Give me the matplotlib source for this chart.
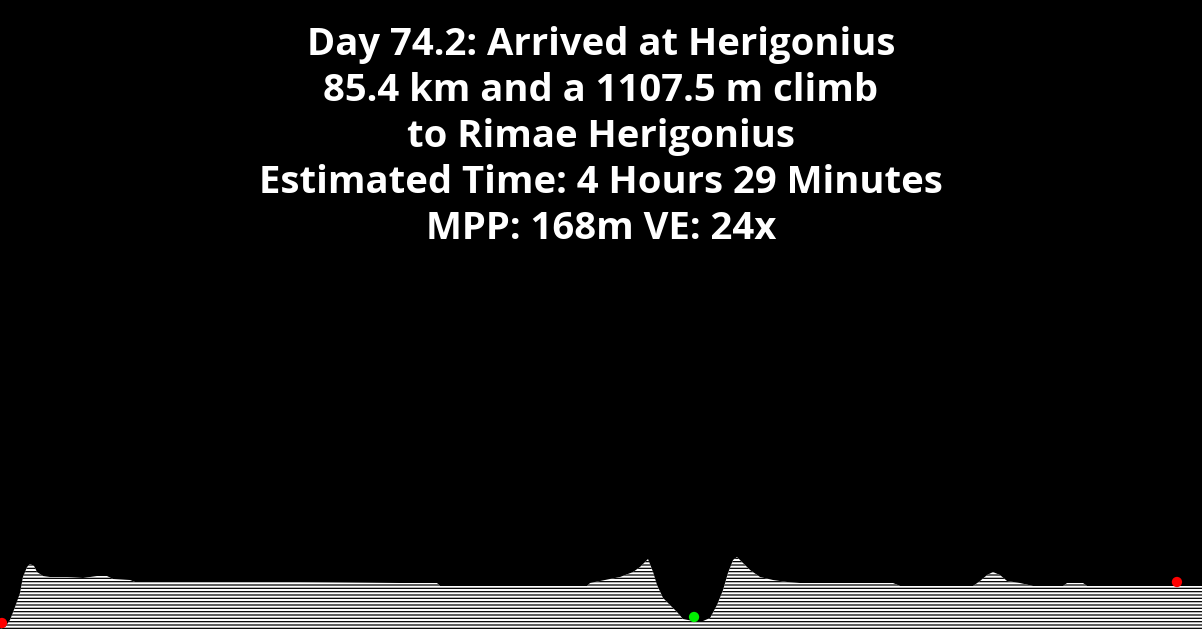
import numpy as np
import matplotlib.pyplot as plt

plt.rcParams['font.family'] = ['Open Sans', 'DejaVu Sans']
plt.rcParams['hatch.linewidth'] = 0.9

title_lines = [
    "Day 74.2: Arrived at Herigonius",
    "85.4 km and a 1107.5 m climb",
    "to Rimae Herigonius",
    "Estimated Time: 4 Hours 29 Minutes",
    "MPP: 168m VE: 24x",
]

# distance along route (km) and relative elevation (m)
dist_km = [0.0, 0.36, 0.71, 1.07, 1.42, 1.63, 1.92, 2.13, 2.42, 2.63, 3.06, 3.55,
           4.76, 5.90, 6.89, 7.60, 8.03, 9.24, 9.59, 14.21, 21.32, 28.42, 31.05,
           31.26, 35.53, 41.71, 41.92, 43.34, 44.05, 44.98, 45.47, 46.04, 46.40,
           46.68, 47.11, 47.60, 48.10, 48.53, 49.24, 49.95, 50.45, 50.94, 51.37,
           51.72, 52.08, 52.36, 52.79, 53.29, 54.00, 54.92, 55.92, 56.84, 63.45,
           63.95, 69.13, 69.63, 70.13, 70.55, 71.05, 71.55, 72.47, 73.40, 75.53,
           75.81, 76.95, 77.23, 85.40]
elev_m = [10, 30, 100, 230, 370, 530, 630, 660, 640, 580, 540, 530,
          530, 520, 540, 540, 510, 500, 480, 480, 480, 470, 470,
          440, 440, 440, 470, 510, 530, 580, 630, 710, 580,
          450, 320, 250, 180, 110, 90, 90, 120, 250, 400,
          570, 700, 730, 670, 600, 530, 500, 480, 470, 470,
          440, 440, 490, 550, 580, 550, 490, 470, 440, 440,
          470, 470, 440, 440]

# start / lowest point / end markers
mark_km = [0.14, 49.31, 83.62]
mark_m = [70, 130, 480]
mark_col = ['#ff0000', '#00ee00', '#ff0000']

fig = plt.figure(figsize=(12.02, 6.30), dpi=100, facecolor='black')
ax = fig.add_axes([0, 0, 1, 1])
ax.set_facecolor('black')

ax.fill_between(dist_km, 0, elev_m, facecolor='white', edgecolor='black',
                hatch='-----', linewidth=0)
ax.scatter(mark_km, mark_m, s=55, c=mark_col, zorder=5, linewidths=0)

ax.set_xlim(0, 85.4)
ax.set_ylim(0, 6300)
ax.axis('off')

for i, line in enumerate(title_lines):
    fig.text(0.5, 1 - (45 + 46 * i) / 630, line, color='white', fontsize=27.5,
             fontweight='bold', ha='center', va='center')

fig.savefig('out.png', dpi=100, facecolor='black')
